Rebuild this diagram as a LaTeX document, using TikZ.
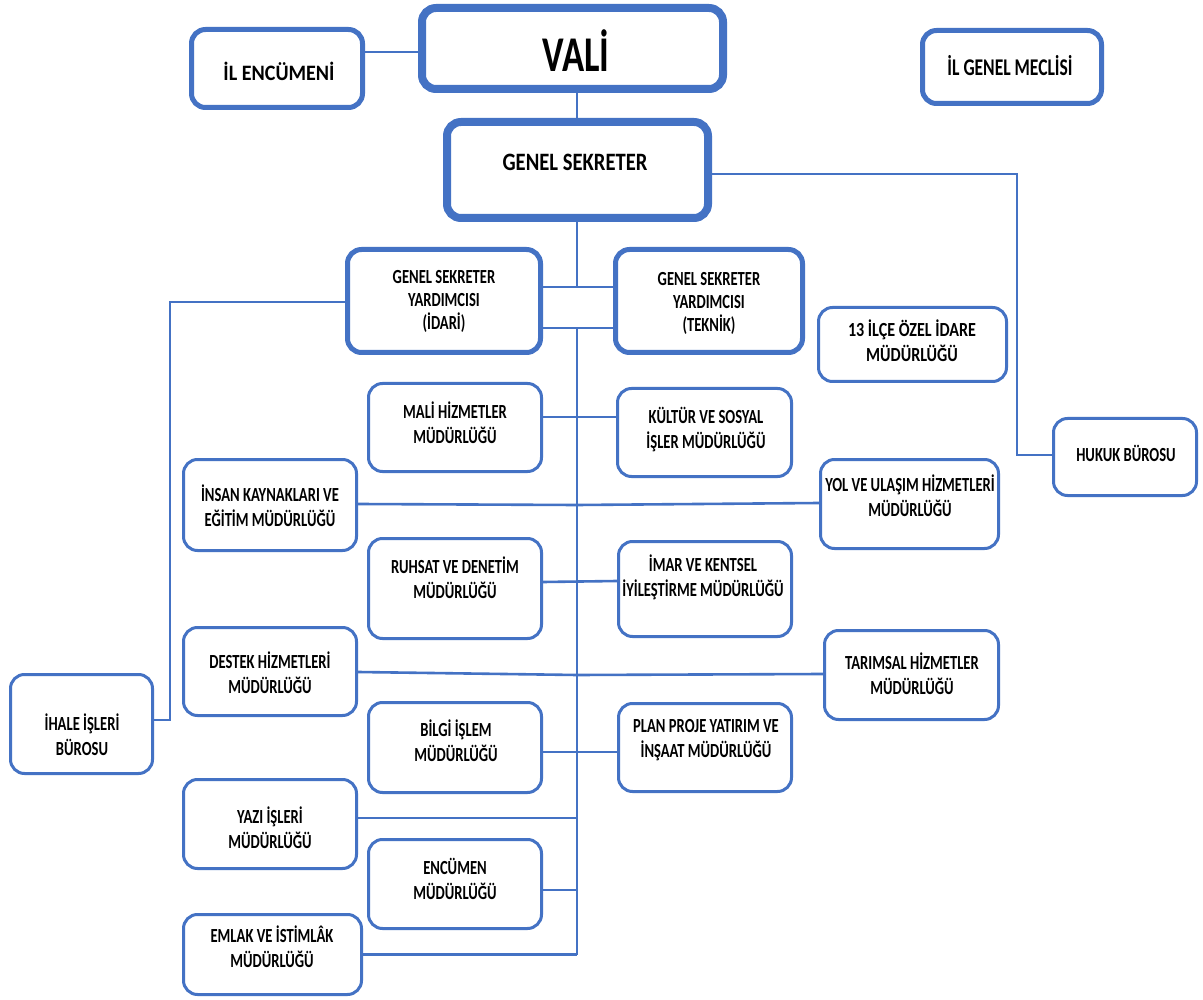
\documentclass[tikz,border=0pt]{standalone}
\usepackage{fontspec}
\setmainfont{Carlito}[FakeStretch=0.73]
\definecolor{ob}{HTML}{4472C4}
\newcommand\mybox[7]{% name, style, lw, x1, x2, y1, y2
  \pgfmathsetmacro\bcx{(#4+#5)/2}%
  \pgfmathsetmacro\bcy{(#6+#7)/2}%
  \pgfmathsetmacro\bw{#5-#4-#3}%
  \pgfmathsetmacro\bh{#7-#6-#3}%
  \node[#2, line width=#3pt, minimum width=\bw pt, minimum height=\bh pt] (#1) at (\bcx,\bcy) {};}
\begin{document}
\begin{tikzpicture}[x=1pt,y=-1pt,
  boxs/.style={draw=ob, fill=white, rounded corners=14pt, inner sep=0pt},
  conn/.style={draw=ob, line width=2.6pt},
  txt/.style={align=center, inner sep=0pt, text=black, font=\bfseries\fontsize{20}{25}\selectfont},
  txtb/.style={txt, font=\bfseries\fontsize{20}{23}\selectfont}]
\fill[white] (0,0) rectangle (1203,1000);
\useasboundingbox (0,0) rectangle (1203,1000);

% boxes
\mybox{ilenc}{boxs}{5}{189}{365}{27}{110}
\mybox{vali}{boxs}{8}{418}{727}{4}{93}
\mybox{gs}{boxs}{8}{443}{712}{118}{222}
\mybox{meclis}{boxs}{5}{920}{1104}{28}{106}
\mybox{idari}{boxs}{5}{345}{543}{247}{355}
\mybox{teknik}{boxs}{5}{613}{805}{247}{355}
\mybox{ilce}{boxs}{3}{817}{1008}{306}{383}
\mybox{mali}{boxs}{3}{367}{543}{382}{473}
\mybox{kultur}{boxs}{3}{616}{793}{387}{478}
\mybox{hukuk}{boxs}{3}{1052}{1198}{417}{497}
\mybox{insan}{boxs}{3}{182}{358}{458}{552}
\mybox{yol}{boxs}{3}{819}{1000}{458}{550}
\mybox{ruhsat}{boxs}{3}{367}{543}{537}{640}
\mybox{imar}{boxs}{3}{617}{793}{540}{638}
\mybox{destek}{boxs}{3}{182}{358}{626}{717}
\mybox{tarim}{boxs}{3}{823}{1000}{629}{721}
\mybox{ihale}{boxs}{3}{9}{154}{673}{775}
\mybox{bilgi}{boxs}{3}{367}{543}{701}{794}
\mybox{plan}{boxs}{3}{617}{793}{702}{793}
\mybox{yazi}{boxs}{3}{182}{358}{778}{870}
\mybox{encumen}{boxs}{3}{367}{543}{838}{930}
\mybox{emlak}{boxs}{3}{182}{363}{913}{996}

% texts
\node[txt, font=\bfseries\fontsize{22}{26}\selectfont] (ilenc-t) at (279,71) {\scalebox{1.25}[1]{İL ENCÜMENİ}};
\node[txt, font=\bfseries\fontsize{50}{54}\selectfont] (vali-t) at (576,51) {VALİ};
\node[txt, font=\bfseries\fontsize{25}{29}\selectfont] (gs-t) at (575,162) {\scalebox{1.13}[1]{GENEL SEKRETER}};
\node[txt, font=\bfseries\fontsize{24}{28}\selectfont] (meclis-t) at (1010,66) {İL GENEL MECLİSİ};
\node[txtb] (idari-t) at (444,301) {GENEL SEKRETER\\YARDIMCISI\\(İDARİ)};
\node[txtb] (teknik-t) at (709,303) {GENEL SEKRETER\\YARDIMCISI\\(TEKNİK)};
\node[txt] (ilce-t) at (912,344) {\scalebox{1.1}[1]{\begin{tabular}{@{}c@{}}13 İLÇE ÖZEL İDARE\\[0pt]MÜDÜRLÜĞÜ\end{tabular}}};
\node[txt] (mali-t) at (455,423) {MALİ HİZMETLER\\MÜDÜRLÜĞÜ};
\node[txt] (kultur-t) at (706,430) {KÜLTÜR VE SOSYAL\\İŞLER MÜDÜRLÜĞÜ};
\node[txt] (hukuk-t) at (1126,453) {HUKUK BÜROSU};
\node[txt] (insan-t) at (270,506) {İNSAN KAYNAKLARI VE\\EĞİTİM MÜDÜRLÜĞÜ};
\node[txt] (yol-t) at (910,496) {YOL VE ULAŞIM HİZMETLERİ\\MÜDÜRLÜĞÜ};
\node[txt] (ruhsat-t) at (455,578) {RUHSAT VE DENETİM\\MÜDÜRLÜĞÜ};
\node[txt] (imar-t) at (703,577) {İMAR VE KENTSEL\\İYİLEŞTİRME MÜDÜRLÜĞÜ};
\node[txt] (destek-t) at (270,673) {DESTEK HİZMETLERİ\\MÜDÜRLÜĞÜ};
\node[txt] (tarim-t) at (912,674) {TARIMSAL HİZMETLER\\MÜDÜRLÜĞÜ};
\node[txt] (ihale-t) at (82,735) {İHALE İŞLERİ\\BÜROSU};
\node[txt] (bilgi-t) at (456,741) {BİLGİ İŞLEM\\MÜDÜRLÜĞÜ};
\node[txt] (plan-t) at (706,740) {PLAN PROJE YATIRIM VE\\İNŞAAT MÜDÜRLÜĞÜ};
\node[txt] (yazi-t) at (270,828) {YAZI İŞLERİ\\MÜDÜRLÜĞÜ};
\node[txt] (encumen-t) at (455,879) {ENCÜMEN\\MÜDÜRLÜĞÜ};
\node[txt] (emlak-t) at (272,947) {EMLAK VE İSTİMLÂK\\MÜDÜRLÜĞÜ};

% connectors
\coordinate (spx) at (577,0);
\coordinate (ihx) at (170,0);
\coordinate (hkx) at (1017,0);
\draw[conn] (ilenc.east |- 0,52) -- (vali.west |- 0,52);
\draw[conn] (vali.south -| spx) -- (gs.north -| spx);
\draw[conn] (gs.south -| spx) -- (spx |- 0,287);
\draw[conn] (idari.east |- 0,287) -- (teknik.west |- 0,287);
\draw[conn] (idari.east |- 0,328) -- (teknik.west |- 0,328);
\draw[conn] (spx |- 0,328) -- (spx |- emlak.east);
\draw[conn] (idari.west |- 0,302) -| (ihx |- 0,720) -- (ihale.east |- 0,720);
\draw[conn] (gs.east |- 0,174) -| (hkx |- 0,455) -- (hukuk.west |- 0,455);
\draw[conn] (mali.east |- 0,417) -- (kultur.west |- 0,417);
\draw[conn] (insan.east |- 0,504) -- (spx |- 0,505) -- (yol.west |- 0,503);
\draw[conn] (ruhsat.east |- 0,582) -- (imar.west |- 0,581);
\draw[conn] (destek.east |- 0,672) -- (spx |- 0,675) -- (tarim.west |- 0,674);
\draw[conn] (bilgi.east |- 0,752) -- (plan.west |- 0,752);
\draw[conn] (yazi.east |- 0,818) -- (spx |- 0,818);
\draw[conn] (encumen.east |- 0,890) -- (spx |- 0,890);
\draw[conn] (emlak.east) -- (spx |- emlak.east);
\end{tikzpicture}
\end{document}
